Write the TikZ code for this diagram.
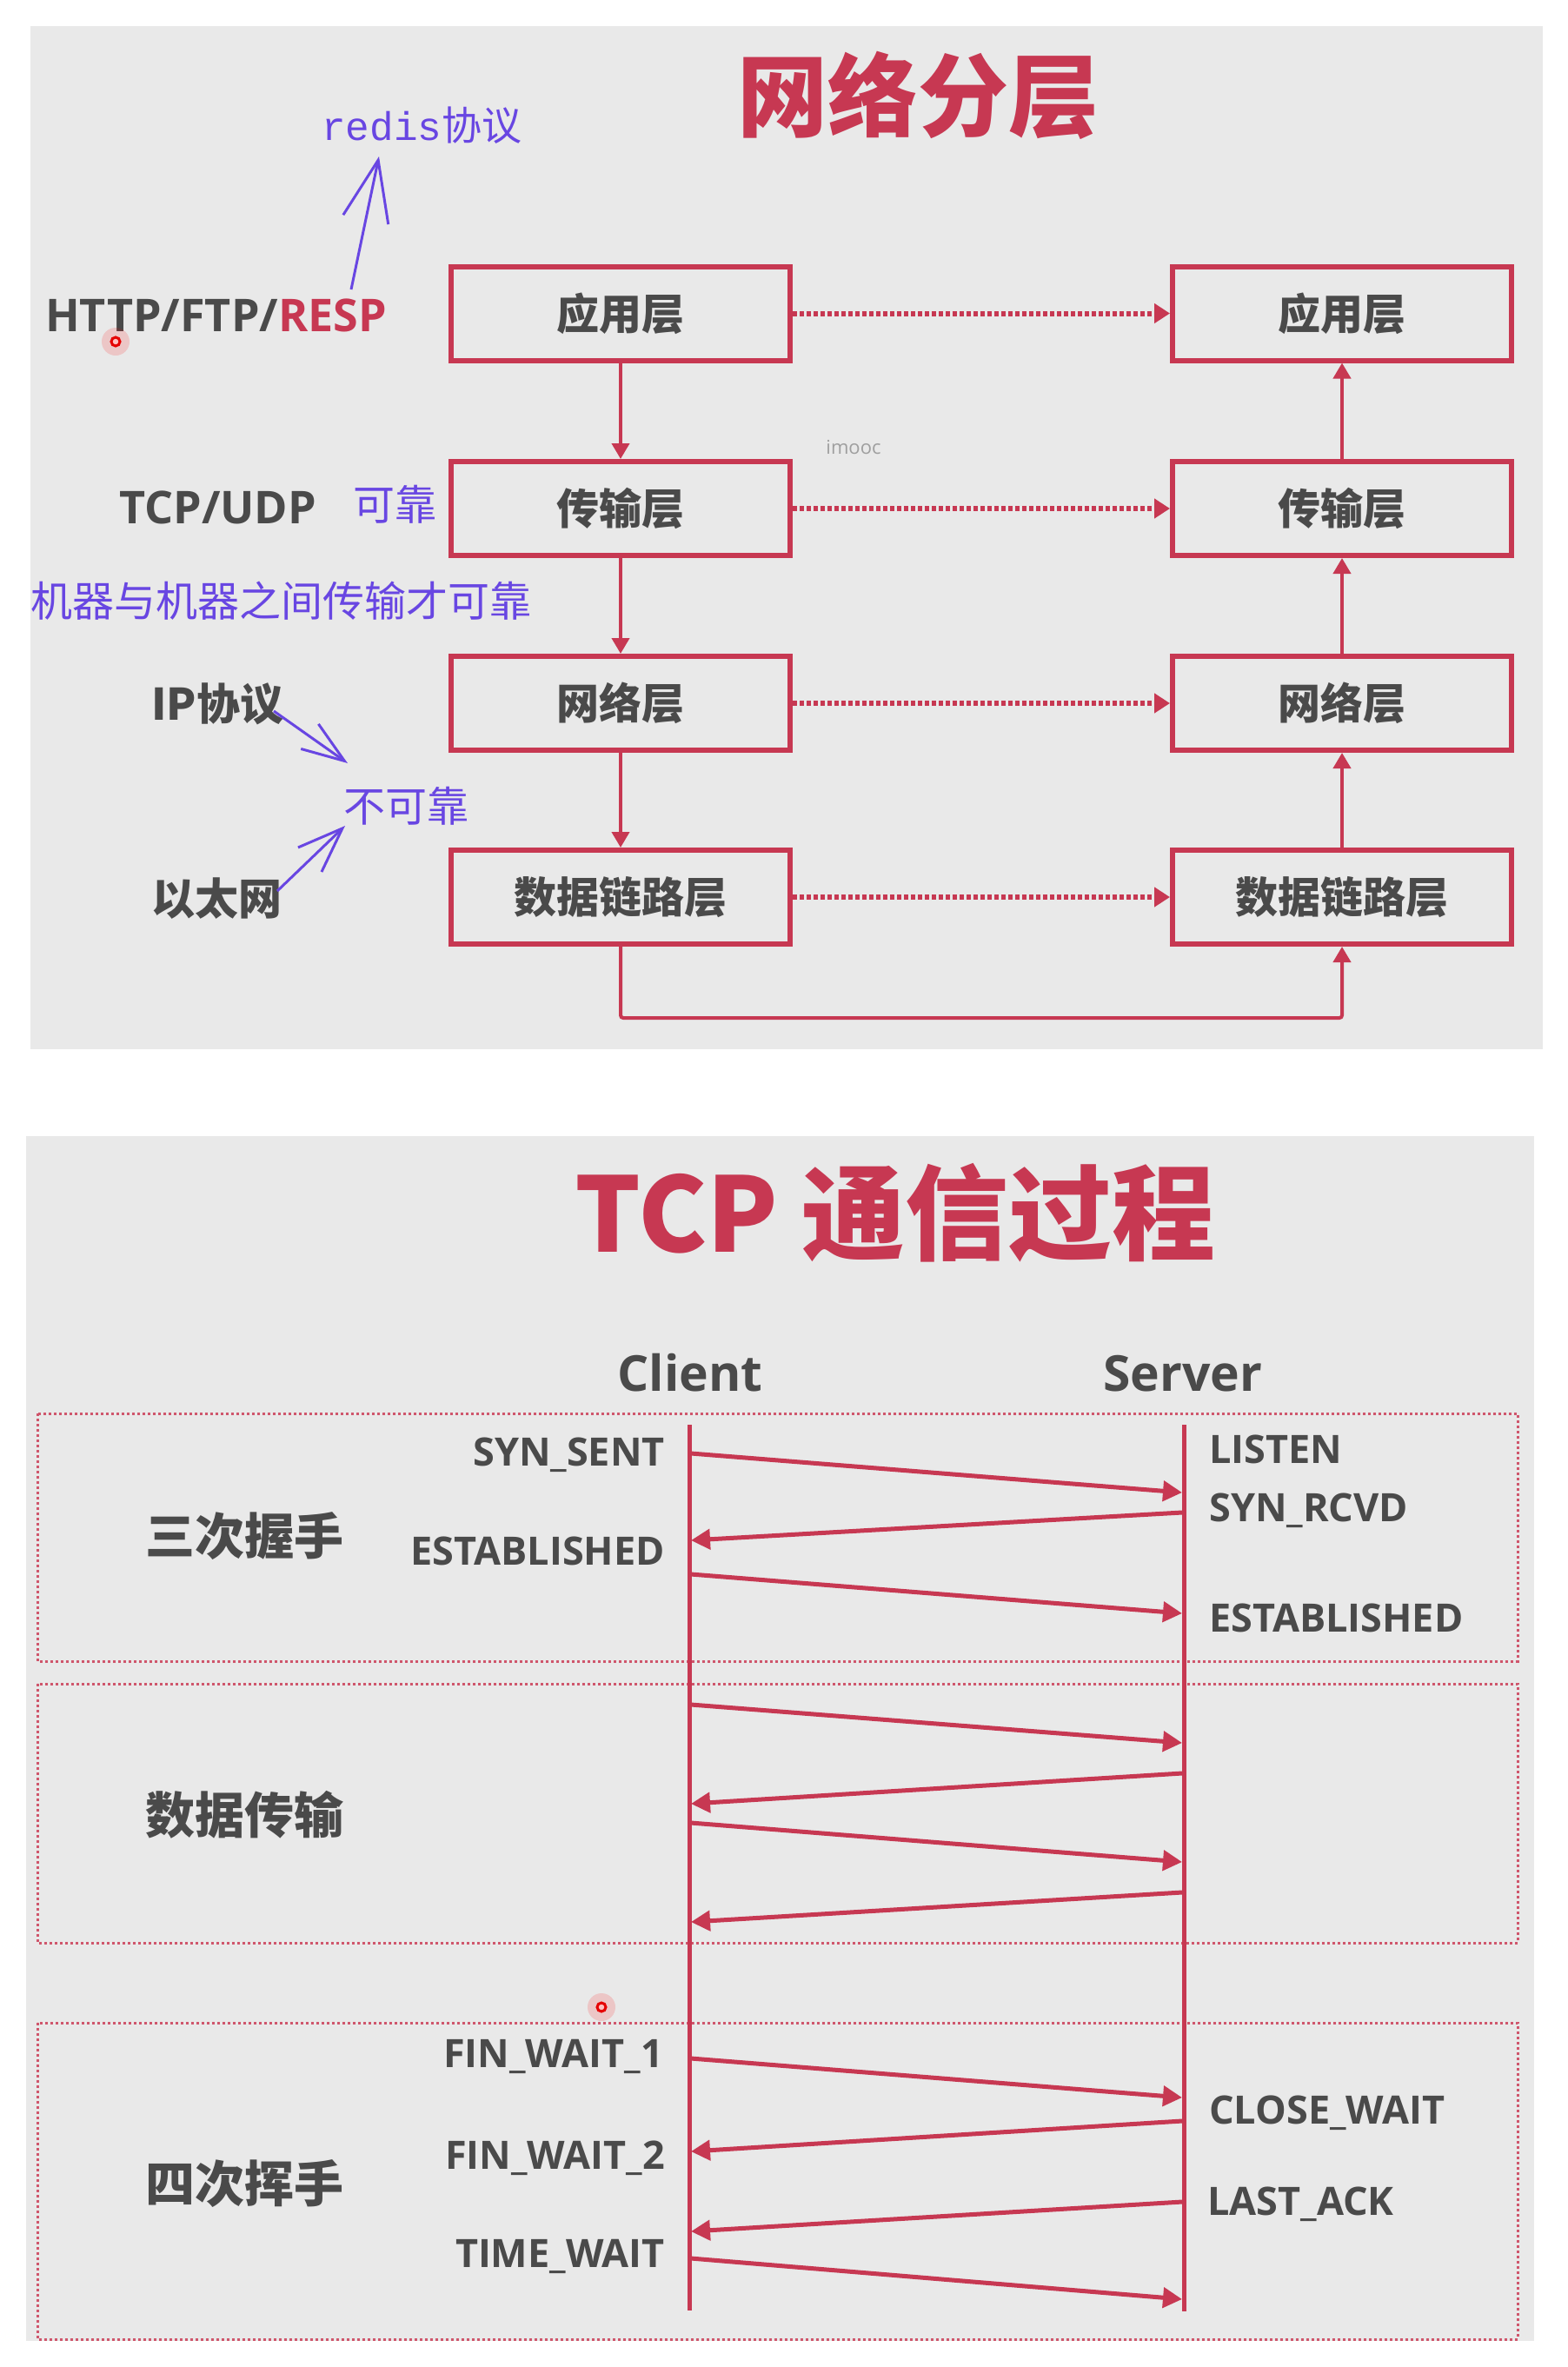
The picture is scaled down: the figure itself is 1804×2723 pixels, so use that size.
\documentclass[tikz,border=0pt]{standalone}
\usepackage{fontspec}
\setmainfont{Open Sans}
\newfontfamily\cjk{Noto Sans CJK SC}
\newfontfamily\monof{Liberation Mono}
\usetikzlibrary{arrows.meta}
\definecolor{crim}{RGB}{199,56,82}
\definecolor{bgg}{RGB}{233,233,233}
\definecolor{txt}{RGB}{74,74,74}
\definecolor{purp}{RGB}{104,70,226}
\newcommand\fsz[1]{\fontsize{#1}{#1}\selectfont}
\begin{document}
\begin{tikzpicture}[x=1pt,y=-1pt,
  layer/.style={draw=crim, line width=6pt, minimum width=390pt, minimum height=108pt, inner sep=0pt,
    font={\cjk\bfseries\fsz{49}}, text=txt, text height=43pt, text depth=6pt},
  flow/.style={draw=crim, line width=4pt, -{Triangle[length=18pt,width=20pt]}},
  peer/.style={draw=crim, line width=6pt, dash pattern=on 4.5pt off 3.5pt, -{Triangle[length=18pt,width=22pt]}},
  grp/.style={draw=crim!85, line width=3pt, dash pattern=on 3pt off 3pt},
  life/.style={draw=crim, line width=5pt},
  msg/.style={draw=crim, line width=5pt, -{Triangle[length=22pt,width=23pt]}},
  lab/.style={font={\bfseries\fsz{45}}, text=txt, inner sep=0pt},
  cjklab/.style={font={\cjk\bfseries\fsz{50}}, text=txt, inner sep=0pt, anchor=base west},
  grpl/.style={font={\cjk\bfseries\fsz{57}}, text=txt, inner sep=0pt, anchor=base west},
  anno/.style={font={\cjk\fsz{48}}, text=purp, inner sep=0pt, anchor=base west},
  annoarrow/.style={draw=purp, line width=3pt},
]
\useasboundingbox (0,0) rectangle (1804,2723);
\fill[white] (0,0) rectangle (1804,2723);

% ---------- top panel ----------
\fill[bgg] (35,30) rectangle (1775,1207);
\node[font={\cjk\bfseries\fsz{104}}, text=crim, anchor=base, inner sep=0pt] (t1) at (1056,149) {网络分层};

\node[layer] (a1) at (714,360.5) {应用层};
\node[layer] (a2) at (714,585) {传输层};
\node[layer] (a3) at (714,809) {网络层};
\node[layer] (a4) at (714,1032) {数据链路层};
\node[layer] (b1) at (1544,360.5) {应用层};
\node[layer] (b2) at (1544,585) {传输层};
\node[layer] (b3) at (1544,809) {网络层};
\node[layer] (b4) at (1544,1032) {数据链路层};

\draw[flow] (a1.south) -- (a2.north);
\draw[flow] (a2.south) -- (a3.north);
\draw[flow] (a3.south) -- (a4.north);
\draw[flow] (b4.north) -- (b3.south);
\draw[flow] (b3.north) -- (b2.south);
\draw[flow] (b2.north) -- (b1.south);
\draw[peer] (a1.east) -- (b1.west);
\draw[peer] (a2.east) -- (b2.west);
\draw[peer] (a3.east) -- (b3.west);
\draw[peer] (a4.east) -- (b4.west);
\draw[flow, rounded corners=3pt] (a4.south) -- ++(0,82) -| (b4.south);

\node[font={\fsz{22}}, text=gray!75, inner sep=0pt] (wm) at (982,515) {imooc};

\node[font={\bfseries\fsz{52}}, text=txt, inner sep=0pt, anchor=base west] (proto) at (52,381) {HTTP/FTP/\textcolor{crim}{RESP}};
\node[font={\bfseries\fsz{52}}, text=txt, inner sep=0pt, anchor=base west] (tcp) at (137,602) {TCP/UDP};
\node[anno] (kk) at (406,598) {可靠};
\node[anno] (mach) at (35,709) {机器与机器之间传输才可靠};
\node[cjklab] (ip) at (174,828) {IP协议};
\node[anno] (bkk) at (395,945) {不可靠};
\node[cjklab] (eth) at (174,1052) {以太网};
\node[inner sep=0pt, anchor=base west, text=purp] (redis) at (370,161) {{\monof\fsz{46}redis}{\cjk\fsz{46}协议}};

\coordinate (r0) at (404,333); \coordinate (r1) at (436,180);
\draw[annoarrow, -{Straight Barb[length=70pt,width=53pt]}] (r0) -- (r1);
\coordinate (i0) at (315,818); \coordinate (i1) at (400,878);
\draw[annoarrow, -{Straight Barb[length=49pt,width=35pt]}] (i0) -- (i1);
\coordinate (e0) at (319,1025); \coordinate (e1) at (397,950);
\draw[annoarrow, -{Straight Barb[length=52pt,width=39pt]}] (e0) -- (e1);

% cursor dot
\fill[red, opacity=0.15] (133,393) circle (16);
\draw[red!90!black, line width=3pt, fill=red!25] (133,393) circle (5);

% ---------- bottom panel ----------
\fill[bgg] (30,1307) rectangle (1765,2693);
\node[font={\cjk\bfseries\fsz{119}}, text=crim, anchor=base, inner sep=0pt] (t2) at (1030,1440) {TCP 通信过程};

\draw[grp] (43,1626) rectangle (1746,1911);
\draw[grp] (43,1937) rectangle (1746,2235);
\draw[grp] (43,2327) rectangle (1746,2691);

\node[font={\bfseries\fsz{57}}, text=txt, anchor=base, inner sep=0pt] (client) at (794,1600) {Client};
\node[font={\bfseries\fsz{57}}, text=txt, anchor=base, inner sep=0pt] (server) at (1361,1600) {Server};

\coordinate (ct) at (793,1639); \coordinate (cb) at (793,2658);
\coordinate (st) at (1362,1639); \coordinate (sb) at (1362,2659);
\draw[life] (ct) -- (cb);
\draw[life] (st) -- (sb);

\node[grpl] (g1) at (167,1788) {三次握手};
\node[grpl] (g2) at (167,2109) {数据传输};
\node[grpl] (g3) at (167,2533) {四次挥手};

\node[lab, anchor=base east] (l1) at (765,1686) {SYN\_SENT};
\node[lab, anchor=base east] (l2) at (765,1800) {ESTABLISHED};
\node[lab, anchor=base east] (l3) at (763,2378) {FIN\_WAIT\_1};
\node[lab, anchor=base east] (l4) at (765,2495) {FIN\_WAIT\_2};
\node[lab, anchor=base east] (l5) at (765,2608) {TIME\_WAIT};
\node[lab, anchor=base west] (r1l) at (1391,1683) {LISTEN};
\node[lab, anchor=base west] (r2l) at (1391,1750) {SYN\_RCVD};
\node[lab, anchor=base west] (r3l) at (1391,1877) {ESTABLISHED};
\node[lab, anchor=base west] (r4l) at (1391,2443) {CLOSE\_WAIT};
\node[lab, anchor=base west] (r5l) at (1389,2548) {LAST\_ACK};

% message points on lifelines
\coordinate (c1) at (795,1672); \coordinate (s1) at (1360,1717);
\coordinate (s2) at (1360,1740); \coordinate (c2) at (795,1772);
\coordinate (c3) at (795,1811); \coordinate (s3) at (1360,1856);
\coordinate (c4) at (795,1961); \coordinate (s4) at (1360,2005);
\coordinate (s5) at (1360,2040); \coordinate (c5) at (795,2075);
\coordinate (c6) at (795,2097); \coordinate (s6) at (1360,2142);
\coordinate (s7) at (1360,2177); \coordinate (c7) at (795,2211);
\coordinate (c8) at (795,2368); \coordinate (s8) at (1360,2413);
\coordinate (s9) at (1360,2440); \coordinate (c9) at (795,2475);
\coordinate (s10) at (1360,2533); \coordinate (c10) at (795,2567);
\coordinate (c11) at (795,2598); \coordinate (s11) at (1360,2645);
\draw[msg] (c1) -- (s1);
\draw[msg] (s2) -- (c2);
\draw[msg] (c3) -- (s3);
\draw[msg] (c4) -- (s4);
\draw[msg] (s5) -- (c5);
\draw[msg] (c6) -- (s6);
\draw[msg] (s7) -- (c7);
\draw[msg] (c8) -- (s8);
\draw[msg] (s9) -- (c9);
\draw[msg] (s10) -- (c10);
\draw[msg] (c11) -- (s11);

% cursor dot
\fill[red, opacity=0.15] (692,2309) circle (16);
\draw[red!90!black, line width=3pt, fill=red!25] (692,2309) circle (5);
\end{tikzpicture}
\end{document}
